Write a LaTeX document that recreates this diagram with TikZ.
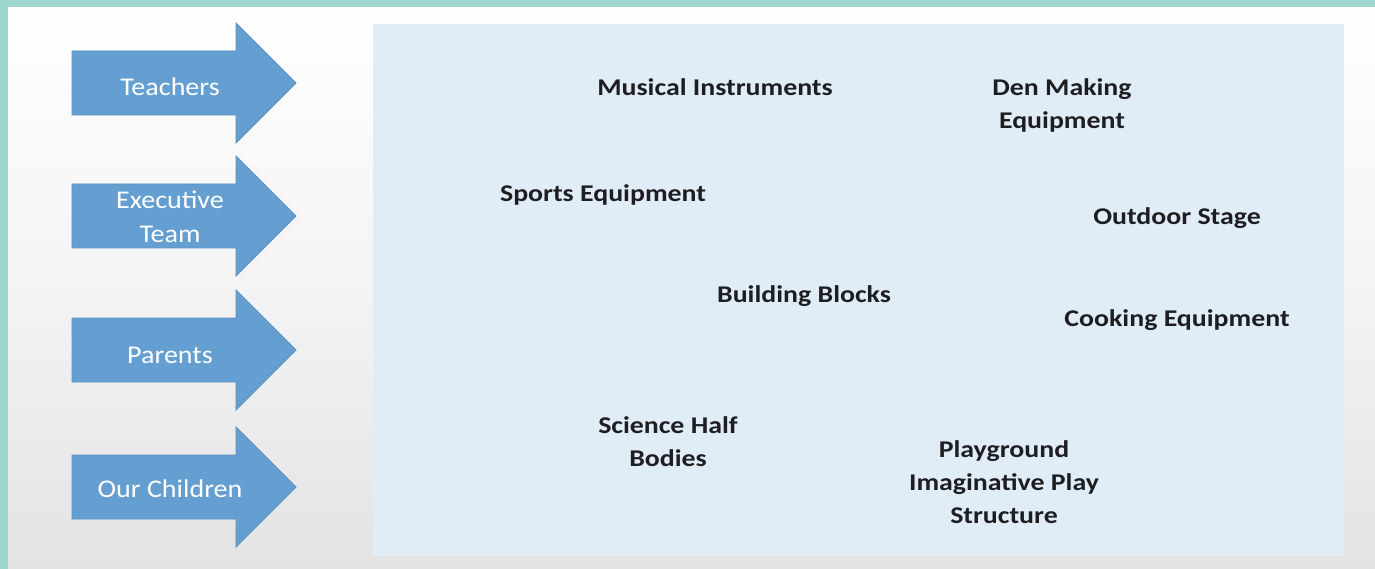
\documentclass[tikz,border=0pt]{standalone}
\usepackage{fontspec}
\setmainfont{Carlito}
\definecolor{teal}{HTML}{9DD5CF}
\definecolor{boxblue}{HTML}{E0EDF7}
\definecolor{arrowfill}{HTML}{659FD1}
\definecolor{arrowedge}{HTML}{5A8FC0}
\definecolor{txt}{HTML}{1E1E22}
\definecolor{bgbottom}{HTML}{E3E3E3}
\tikzset{
  boxtxt/.style={inner sep=0pt, anchor=base, align=center, text=txt,
    font=\fontsize{24}{33}\selectfont\bfseries, xscale=1.16, transform shape},
  arrtxt/.style={inner sep=0pt, anchor=base, align=center, text=white,
    font=\fontsize{25.5}{34}\selectfont, xscale=1.1, transform shape},
  bigarrow/.style={fill=arrowfill, draw=arrowedge, line width=0.8pt, line join=miter}
}
\newcommand{\myarrow}[1]{%
  \path[bigarrow] (72,#1-32) -- (236,#1-32) -- (236,#1-60) -- (296,#1) -- (236,#1+60) -- (236,#1+32) -- (72,#1+32) -- cycle;}
\begin{document}
\begin{tikzpicture}[x=1pt,y=-1pt]
\useasboundingbox (0,0) rectangle (1375,569);
\shade[top color=white, bottom color=bgbottom, middle color=white!60!bgbottom] (0,0) rectangle (1375,569);
\fill[teal] (0,0) rectangle (1375,7);
\fill[teal] (0,0) rectangle (8,569);
\fill[boxblue] (373,24) rectangle (1344,556);
% arrows
\myarrow{83}
\myarrow{216}
\myarrow{350}
\myarrow{487}
\node[arrtxt] (teachers) at (170,96) {Teachers};
\node[arrtxt] (exec) at (170,243) {Executive\\Team};
\node[arrtxt] (parents) at (170,363) {Parents};
\node[arrtxt] (children) at (170,497) {Our Children};
% items
\node[boxtxt] (musical) at (715,96) {Musical Instruments};
\node[boxtxt] (den) at (1062,129) {Den Making\\Equipment};
\node[boxtxt] (sports) at (603,202) {Sports Equipment};
\node[boxtxt] (stage) at (1177,225) {Outdoor Stage};
\node[boxtxt] (blocks) at (804,302) {Building Blocks};
\node[boxtxt] (cooking) at (1177,326) {Cooking Equipment};
\node[boxtxt] (science) at (668,466) {Science Half\\Bodies};
\node[boxtxt] (playground) at (1004,523) {Playground\\Imaginative Play\\Structure};
\end{tikzpicture}
\end{document}
